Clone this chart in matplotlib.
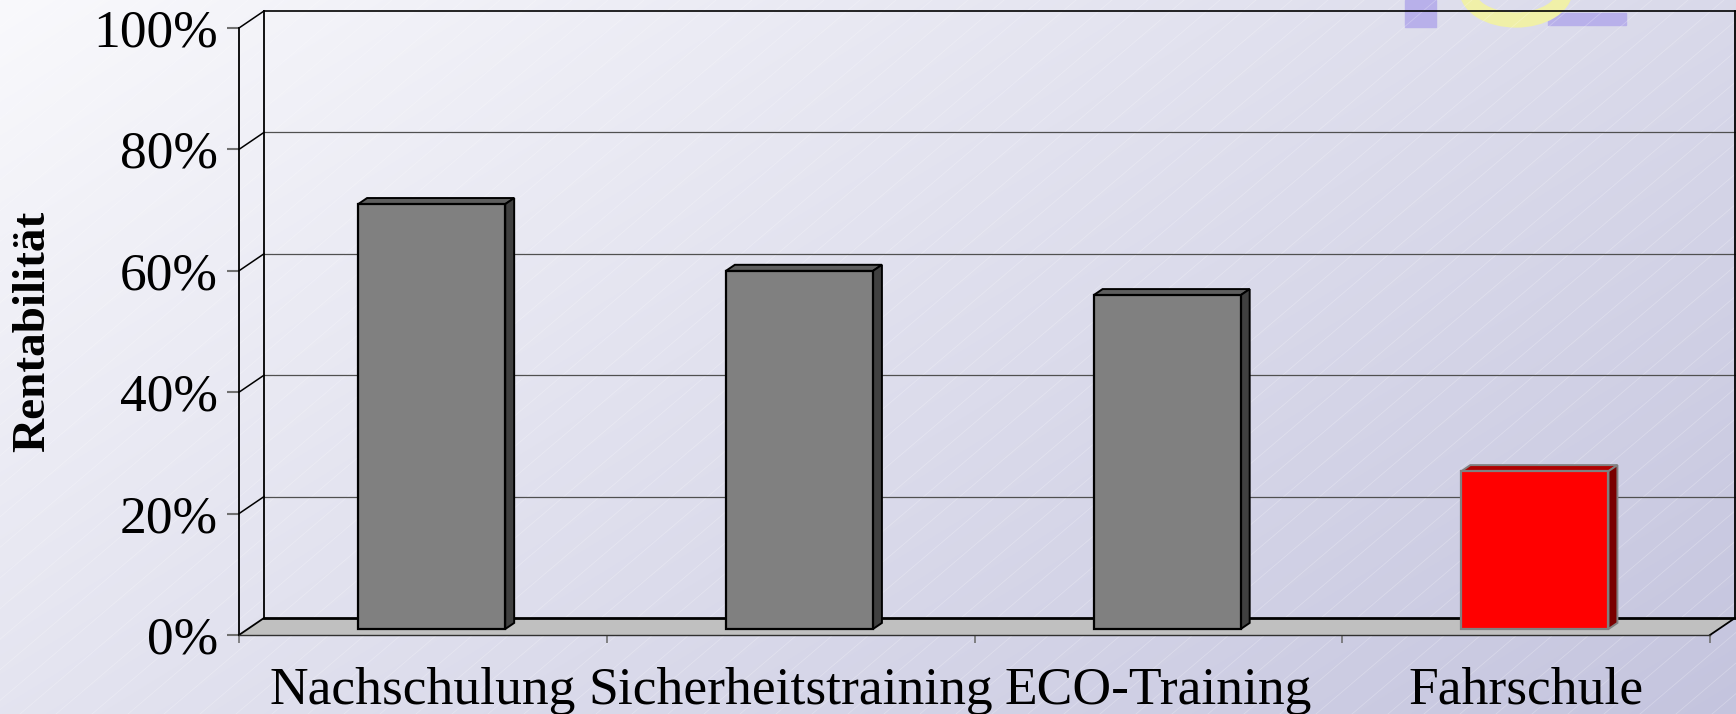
import numpy as np
import matplotlib.pyplot as plt
from matplotlib.patches import Polygon, Rectangle, Arc

plt.rcParams['font.family'] = ['Liberation Serif', 'DejaVu Serif']

categories = ['Nachschulung', 'Sicherheitstraining', 'ECO-Training', 'Fahrschule']
rentabilitaet = [70, 59, 55, 26]
yticks = [0, 20, 40, 60, 80, 100]
ytick_labels = ['0%', '20%', '40%', '60%', '80%', '100%']

face_colors = ['#808080', '#808080', '#808080', '#ff0000']
top_colors = ['#5e5e5e', '#5e5e5e', '#5e5e5e', '#b00000']
side_colors = ['#404040', '#404040', '#404040', '#7a0000']
edge_colors = ['black', 'black', 'black', '#808080']

W, H = 1736, 714
fig = plt.figure(figsize=(W / 100, H / 100), dpi=100)

# background gradient with faint diagonal lines
bg = fig.add_axes([0, 0, 1, 1], zorder=-10)
yy, xx = np.mgrid[0:H, 0:W]
t = xx / W * 0.6 + yy / H * 0.4
c0 = np.array([249, 249, 252]) / 255
c1 = np.array([196, 196, 222]) / 255
img = c0 + (c1 - c0) * t[..., None]
bg.imshow(img, extent=[0, W, H, 0], aspect='auto')
for k in range(-2 * W, W, 36):
    bg.plot([k, k + H / 0.85], [H, 0], color='white', alpha=0.25, lw=0.6)
# logo fragment at the top
bg.add_patch(Rectangle((1405, 0), 31, 27, color='#b8b0ea'))
bg.add_patch(Rectangle((1548, 13), 78, 12, color='#b8b0ea'))
bg.add_patch(Arc((1516, -10), 98, 60, theta1=0, theta2=180, color='#f0f0a8', lw=11))
bg.set_xlim(0, W)
bg.set_ylim(H, 0)
bg.axis('off')

# front plane of the 3d box
ax = fig.add_axes([239 / W, (H - 635) / H, (1710 - 239) / W, (635 - 28) / H])
ax.patch.set_visible(False)
ax.set_xlim(0, 4)
ax.set_ylim(0, 100)
n = len(categories)
DX = 25 / (1471 / n)
DY = 17 / (607 / 100)

# floor
ax.add_patch(Polygon([(0, 0), (n, 0), (n + DX, DY), (DX, DY)], closed=True,
                     facecolor='#c0c0c0', edgecolor='none', clip_on=False, zorder=1))
ax.plot([DX, n + DX], [DY, DY], color='black', lw=2, clip_on=False, zorder=2)
ax.plot([0, DX], [0, DY], color='black', lw=1.3, clip_on=False, zorder=2)
ax.plot([n, n + DX], [0, DY], color='black', lw=1.3, clip_on=False, zorder=2)

# walls and gridlines
for v in yticks[1:]:
    c = 'black' if v == 100 else '#505050'
    ax.plot([DX, n + DX], [v + DY, v + DY], color=c, lw=1.2 if v == 100 else 0.9,
            clip_on=False, zorder=2)
    ax.plot([0, DX], [v, v + DY], color='black', lw=1.1, clip_on=False, zorder=2)
ax.plot([DX, DX], [DY, 100 + DY], color='black', lw=1.3, clip_on=False, zorder=2)
ax.plot([n + DX, n + DX], [DY, 100 + DY], color='black', lw=1.3, clip_on=False, zorder=2)

# bars with 3d faces
d1, dd, w = 0.35, 0.36, 0.40
centers = np.arange(n) + 0.5
ax.bar(centers + d1 * DX, rentabilitaet, width=w, bottom=d1 * DY,
       color=face_colors, edgecolor=edge_colors, linewidth=1.6, zorder=6, clip_on=False)
for i, v in enumerate(rentabilitaet):
    x0 = centers[i] + d1 * DX - w / 2
    x1 = x0 + w
    yb, yt = d1 * DY, v + d1 * DY
    ox, oy = dd * DX, dd * DY
    ax.add_patch(Polygon([(x0, yt), (x1, yt), (x1 + ox, yt + oy), (x0 + ox, yt + oy)],
                         closed=True, facecolor=top_colors[i], edgecolor=edge_colors[i],
                         lw=1.4, clip_on=False, zorder=5))
    ax.add_patch(Polygon([(x1, yb), (x1, yt), (x1 + ox, yt + oy), (x1 + ox, yb + oy)],
                         closed=True, facecolor=side_colors[i], edgecolor=edge_colors[i],
                         lw=1.4, clip_on=False, zorder=5))

# axes, ticks, labels
for s in ['top', 'right']:
    ax.spines[s].set_visible(False)
ax.spines['left'].set_color('black')
ax.spines['left'].set_linewidth(1.3)
ax.spines['bottom'].set_color('#303030')
ax.spines['bottom'].set_linewidth(1.0)
ax.set_yticks(yticks, ytick_labels)
ax.tick_params(axis='y', direction='out', length=9, width=1.5, color='#707070',
               pad=6, labelsize=38.5)
ax.set_xticks(range(n + 1), [''] * (n + 1))
ax.set_xticks(centers, categories, minor=True)
ax.tick_params(axis='x', which='major', direction='out', length=6, width=1.2,
               color='#707070')
ax.tick_params(axis='x', which='minor', length=0, pad=23, labelsize=38.5)

fig.text(33 / W, 1 - 331 / H, 'Rentabilität', rotation=90, fontsize=34,
         fontweight='bold', ha='center', va='center')

fig.savefig('out.png', dpi=100)
